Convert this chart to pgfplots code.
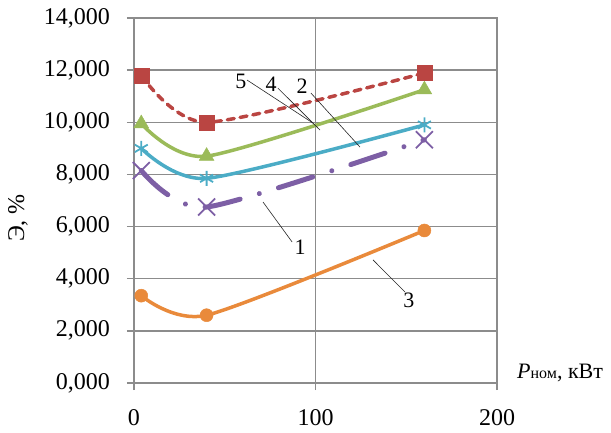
\documentclass[border=0pt]{standalone}
\usepackage{fontspec}
\setmainfont{Liberation Serif}
\usepackage{pgfplots}
\pgfplotsset{compat=1.18}

\definecolor{cRed}{HTML}{BA4542}
\definecolor{cGreen}{HTML}{9BBB59}
\definecolor{cCyan}{HTML}{4BACC6}
\definecolor{cPurple}{HTML}{7D5FA5}
\definecolor{cOrange}{HTML}{E98A3B}
\definecolor{gridgray}{HTML}{8C8C8C}

\begin{document}
\begin{tikzpicture}[x=1pt,y=1pt]
\useasboundingbox (0,0) rectangle (611,-433);
\begin{axis}[
  at={(134pt,-383pt)}, anchor=south west,
  scale only axis, width=363pt, height=365pt,
  xmin=0, xmax=200, ymin=0, ymax=14,
  xtick={0,100,200}, ytick={0,2,...,14},
  scaled y ticks=false,
  clip=false,
  grid=major,
  grid style={line width=1.3pt, color=gridgray},
  axis line style={line width=1.3pt, color=gridgray},
  tick style={line width=1.3pt, color=gridgray},
  tick align=outside, major tick length=7pt,
  xtick pos=bottom, ytick pos=left,
  /pgf/number format/assume math mode=true,
  ticklabel style={font=\fontsize{24}{28}\selectfont, text=black},
  yticklabel style={anchor=east, inner sep=0pt, xshift=-17pt,
    /pgf/number format/.cd, fixed, fixed zerofill, precision=3, use comma},
  xticklabel style={anchor=north, inner sep=0pt, yshift=-19pt},
]
% 3
\addplot[cOrange, line width=3.5pt, smooth, tension=0.42,
  mark=*, mark size=6.5pt, mark options={fill=cOrange, draw=cOrange, line width=0.5pt}]
  coordinates {(4,3.35) (40,2.6) (160,5.85)};
% 1
\addplot[cPurple, line width=5pt, smooth, tension=0.42, line cap=round,
  dash pattern=on 36pt off 20pt on 0.01pt off 20pt,
  mark=x, mark size=12pt, mark options={solid, line width=1.8pt, line cap=butt}]
  coordinates {(4,8.15) (40,6.75) (160,9.33)};
% 2
\addplot[cCyan, line width=3.5pt, smooth, tension=0.42,
  mark=asterisk, mark size=7.5pt, mark options={line width=1.8pt}]
  coordinates {(4,9.0) (40,7.85) (160,9.9)};
% 4
\addplot[cGreen, line width=3.5pt, smooth, tension=0.42,
  mark=triangle*, mark size=8.5pt, mark options={fill=cGreen, draw=cGreen, line width=0.5pt}]
  coordinates {(4,9.95) (40,8.7) (160,11.25)};
% 5
\addplot[cRed, line width=3.5pt, smooth, tension=0.42, line cap=round,
  dash pattern=on 7pt off 6pt,
  mark=square*, mark size=7.5pt, mark options={solid, fill=cRed, draw=cRed, line width=0.5pt}]
  coordinates {(4,11.8) (40,10.0) (160,11.89)};

% curve numbers with leader lines
\draw[line width=0.6pt, black!85] (axis cs:62.3,11.62) -- (axis cs:98.6,9.97);
\draw[line width=0.6pt, black!85] (axis cs:79.3,11.31) -- (axis cs:102.5,9.70);
\draw[line width=0.6pt, black!85] (axis cs:97.5,11.12) -- (axis cs:124.5,9.05);
\draw[line width=0.6pt, black!85] (axis cs:71.1,6.94) -- (axis cs:87.1,5.41);
\draw[line width=0.6pt, black!85] (axis cs:131.7,4.72) -- (axis cs:149.3,3.49);
\node[font=\fontsize{22}{26}\selectfont, inner sep=0pt] at (axis cs:58.9,11.55) {5};
\node[font=\fontsize{22}{26}\selectfont, inner sep=0pt] at (axis cs:75.5,11.47) {4};
\node[font=\fontsize{22}{26}\selectfont, inner sep=0pt] at (axis cs:92.6,11.39) {2};
\node[font=\fontsize{22}{26}\selectfont, inner sep=0pt] at (axis cs:91.5,5.22) {1};
\node[font=\fontsize{22}{26}\selectfont, inner sep=0pt] at (axis cs:151.5,3.18) {3};
\end{axis}

\node[rotate=90, inner sep=0pt, font=\fontsize{24}{28}\selectfont] at (18,-218) {Э, \%};
\node[anchor=base west, inner sep=0pt] at (517,-378)
  {{\fontsize{22}{26}\selectfont\itshape P}{\fontsize{16}{19}\selectfont ном}{\fontsize{22}{26}\selectfont, кВт}};
\end{tikzpicture}
\end{document}
